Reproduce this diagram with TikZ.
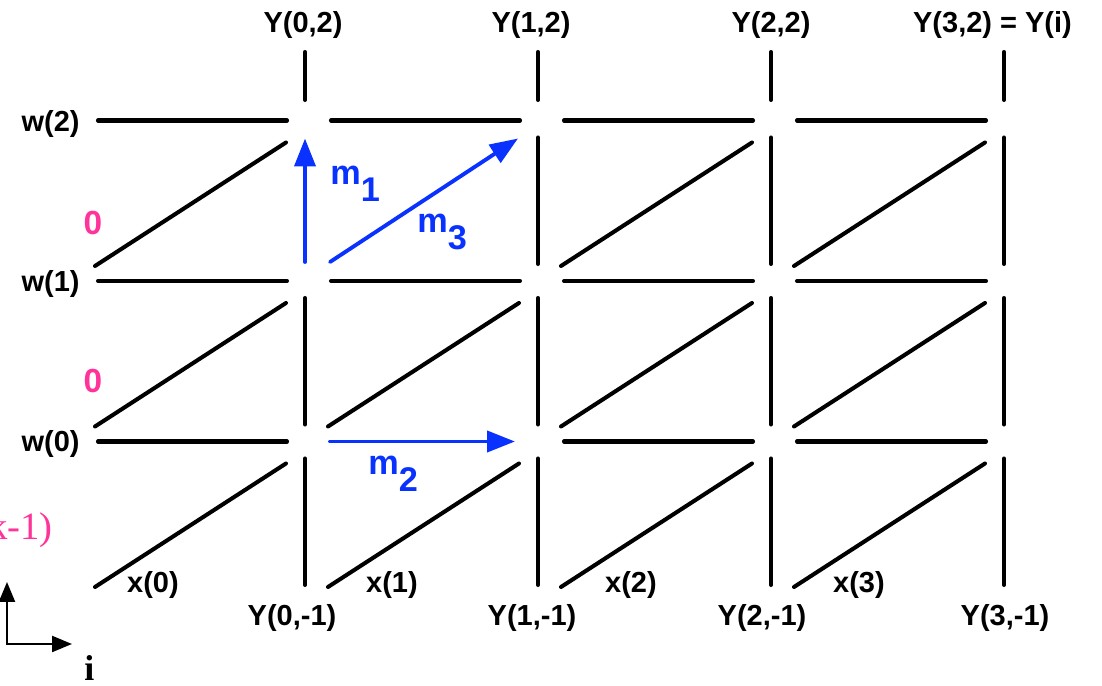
\documentclass[tikz,border=0pt]{standalone}
\usepackage{fontspec}
\setmainfont{Liberation Serif}
\setsansfont{Liberation Sans}
\usetikzlibrary{arrows.meta, calc}

\definecolor{msgblue}{RGB}{10,50,255}
\definecolor{zeropink}{RGB}{255,51,153}

\newcommand{\msgsub}[1]{m\raisebox{-0.34cm}{#1}}

\begin{document}
\begin{tikzpicture}[
  font=\sffamily\bfseries,
  % Line styles
  gridline/.style={draw, line width=2.3pt, line cap=round},
  msgline/.style={draw=msgblue, line width=2.2pt, line cap=round, -{Triangle[length=0.56cm, width=0.42cm]}},
  axisline/.style={draw, line width=1.3pt, {Triangle[length=0.4cm, width=0.32cm]}-{Triangle[length=0.4cm, width=0.32cm]}},
  % Label styles
  lbl/.style={inner sep=0pt, anchor=base, font=\sffamily\bfseries\fontsize{16.5}{18}\selectfont},
  mlbl/.style={inner sep=0pt, anchor=base west, text=msgblue, font=\sffamily\bfseries\fontsize{19.5}{22}\selectfont},
  zlbl/.style={inner sep=0pt, anchor=base, text=zeropink, font=\sffamily\bfseries\fontsize{19}{22}\selectfont}
]
  \useasboundingbox (0,0) rectangle (22.04,13.72);

  % ==========================================
  % LATTICE POINTS
  % ==========================================
  \foreach \c in {-1,...,3}
    \foreach \r in {-1,...,2}
      \coordinate (p\c_\r) at ({6.1+4.66*\c}, {4.89+3.21*\r});

  % Horizontal segments (w rows)
  \foreach \b/\c/\r in {-1/0/0, 1/2/0, 2/3/0, -1/0/1, 0/1/1, 1/2/1, 2/3/1, -1/0/2, 0/1/2, 1/2/2, 2/3/2}
    \draw[gridline] ($(p\b_\r)+(0.52,0)$) -- ($(p\c_\r)+(-0.36,0)$);

  % Vertical segments (Y columns)
  \foreach \c/\r/\s in {0/-1/0, 0/0/1, 1/-1/0, 1/0/1, 1/1/2, 2/-1/0, 2/0/1, 2/1/2, 3/-1/0, 3/0/1, 3/1/2}
    \draw[gridline] ($(p\c_\r)+(0,0.34)$) -- ($(p\c_\s)+(0,-0.34)$);
  \foreach \c in {0,...,3}
    \draw[gridline] ($(p\c_2)+(0,0.41)$) -- ($(p\c_2)+(0,1.37)$);

  % Diagonal segments
  \foreach \b/\c/\r/\s in {-1/0/-1/0, -1/0/0/1, -1/0/1/2, 0/1/-1/0, 0/1/0/1, 1/2/-1/0, 1/2/0/1, 1/2/1/2, 2/3/-1/0, 2/3/0/1, 2/3/1/2}
    \draw[gridline] ($(p\b_\r)+(0.46,0.30)$) -- ($(p\c_\s)+(-0.38,-0.44)$);

  % ==========================================
  % MESSAGES
  % ==========================================
  \draw[msgline] ($(p0_1)+(0,0.38)$) -- ($(p0_2)+(0,-0.36)$);
  \draw[msgline] ($(p0_0)+(0.5,0)$) -- ($(p1_0)+(-0.46,0)$);
  \draw[msgline] ($(p0_1)+(0.5,0.38)$) -- ($(p1_2)+(-0.4,-0.36)$);

  \node[mlbl] (m1) at (6.6,10.02) {\msgsub{1}};
  \node[mlbl] (m3) at (8.34,9.06) {\msgsub{3}};
  \node[mlbl] (m2) at (7.36,4.22) {\msgsub{2}};

  % ==========================================
  % LABELS
  % ==========================================
  \node[lbl] (ytop0) at (6.06,13.06) {Y(0,2)};
  \node[lbl] (ytop1) at (10.62,13.06) {Y(1,2)};
  \node[lbl] (ytop2) at (15.42,13.06) {Y(2,2)};
  \node[lbl] (ytop3) at (19.85,13.06) {Y(3,2) = Y(i)};

  \node[lbl] (ybot0) at (5.84,1.2) {Y(0,-1)};
  \node[lbl] (ybot1) at (10.64,1.2) {Y(1,-1)};
  \node[lbl] (ybot2) at (15.24,1.2) {Y(2,-1)};
  \node[lbl] (ybot3) at (20.1,1.2) {Y(3,-1)};

  \node[lbl] (x0) at (3.06,1.86) {x(0)};
  \node[lbl] (x1) at (7.84,1.86) {x(1)};
  \node[lbl] (x2) at (12.62,1.86) {x(2)};
  \node[lbl] (x3) at (17.18,1.86) {x(3)};

  \node[lbl, anchor=base east] (w2) at (1.6,11.08) {w(2)};
  \node[lbl, anchor=base east] (w1) at (1.6,7.88) {w(1)};
  \node[lbl, anchor=base east] (w0) at (1.6,4.68) {w(0)};

  \node[zlbl] (zero1) at (1.86,9.02) {0};
  \node[zlbl] (zero0) at (1.86,5.86) {0};

  % Cut off text at the left border
  \node[inner sep=0pt, anchor=base east, text=zeropink, font=\rmfamily\fontsize{22}{26}\selectfont] (kprev) at (1.06,2.92) {k-1)};

  % ==========================================
  % AXES
  % ==========================================
  \coordinate (ax0) at (0.14,0.84);
  \coordinate (axup) at (0.14,2.08);
  \coordinate (axright) at (1.44,0.84);
  \draw[axisline] (axup) -- (ax0) -- (axright);
  \node[inner sep=0pt, anchor=base, font=\rmfamily\bfseries\fontsize{20.5}{24}\selectfont] (iaxis) at (1.79,0.1) {i};

\end{tikzpicture}
\end{document}
